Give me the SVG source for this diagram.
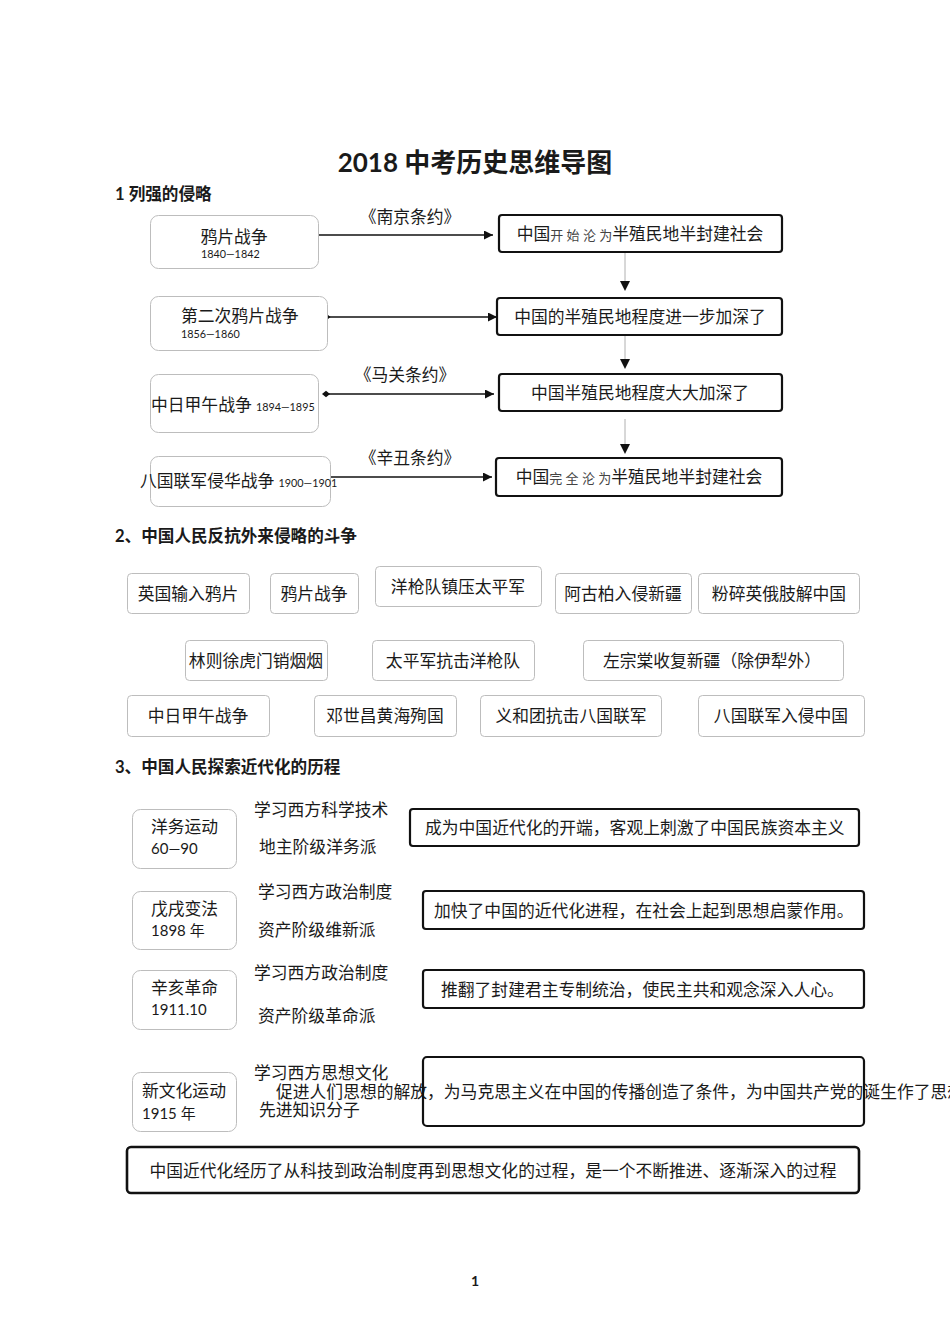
<svg xmlns="http://www.w3.org/2000/svg" width="950" height="1344" viewBox="0 0 950 1344">
<style>
text{font-family:Lato,"Noto Sans CJK SC",sans-serif;fill:#1a1a1a}
.h{font-weight:bold;font-size:16.6px}
.t{font-size:16.8px}
.s{font-size:10.8px}
.g{fill:#fff;stroke:#bdbdbd;stroke-width:1}
.k{fill:none;stroke:#111;stroke-width:2.2}
.ln{stroke:#111;stroke-width:1.3;fill:none}
.vl{stroke:#b0b0b0;stroke-width:1;fill:none}
.thin{font-size:13px;fill:#444}
</style>
<defs>
<marker id="ah" viewBox="0 0 10 10" refX="10" refY="5" markerWidth="9" markerHeight="9" markerUnits="userSpaceOnUse" orient="auto"><path d="M0,0L10,5L0,10z" fill="#111"/></marker>
<marker id="dm" viewBox="0 0 10 10" refX="5" refY="5" markerWidth="8" markerHeight="8" markerUnits="userSpaceOnUse" orient="auto"><path d="M0,5L5,1L10,5L5,9z" fill="#111"/></marker>
<marker id="dm2" viewBox="0 0 10 10" refX="5" refY="5" markerWidth="5" markerHeight="5" markerUnits="userSpaceOnUse" orient="auto"><path d="M0,5L5,1L10,5L5,9z" fill="#111"/></marker>
</defs>
<rect width="950" height="1344" fill="#fff"/>
<text x="475" y="172" text-anchor="middle" style="font-size:26px;font-weight:bold">2018 中考历史思维导图</text>
<text x="115" y="200" class="h">1 列强的侵略</text>

<g id="connectors">
<line class="ln" x1="318" y1="235" x2="493" y2="235" marker-end="url(#ah)"/>
<line class="ln" x1="328" y1="317" x2="497" y2="317" marker-start="url(#dm2)" marker-end="url(#ah)"/>
<line class="ln" x1="326" y1="394" x2="494" y2="394" marker-start="url(#dm)" marker-end="url(#ah)"/>
<line class="ln" x1="330" y1="477" x2="492" y2="477" marker-end="url(#ah)"/>
<line class="vl" x1="625" y1="253" x2="625" y2="281"/>
<path d="M620,281L630,281L625,291z" fill="#111"/>
<line class="vl" x1="625" y1="336" x2="625" y2="359"/>
<path d="M620,359L630,359L625,369z" fill="#111"/>
<line class="vl" x1="625" y1="419" x2="625" y2="444"/>
<path d="M620,444L630,444L625,454z" fill="#111"/>
<text x="410" y="223" text-anchor="middle" class="t">《南京条约》</text>
<text x="405" y="381" text-anchor="middle" class="t">《马关条约》</text>
<text x="410" y="464" text-anchor="middle" class="t">《辛丑条约》</text>
</g>

<g id="n1"><rect class="g" x="150.5" y="215.5" width="168" height="53" rx="8"/><text x="234" y="243" text-anchor="middle" class="t">鸦片战争</text><text x="201" y="258" class="s">1840—1842</text></g>
<g id="n2"><rect class="g" x="150.5" y="296.5" width="177" height="54" rx="8"/><text x="181" y="322" class="t">第二次鸦片战争</text><text x="181" y="338" class="s">1856—1860</text></g>
<g id="n3"><rect class="g" x="150.5" y="374.5" width="168" height="58" rx="8"/><text x="151" y="411" class="t">中日甲午战争 <tspan class="s">1894—1895</tspan></text></g>
<g id="n4"><rect class="g" x="150.5" y="456.5" width="180" height="50" rx="8"/><text x="140" y="487" class="t">八国联军侵华战争 <tspan class="s">1900—1901</tspan></text></g>

<g id="r1"><rect class="k" x="499" y="215" width="283" height="37" rx="3"/><text x="640" y="240" text-anchor="middle" class="t">中国<tspan class="thin">开 始 沦 为</tspan>半殖民地半封建社会</text></g>
<g id="r2"><rect class="k" x="497" y="298" width="285" height="37" rx="3"/><text x="640" y="323" text-anchor="middle" class="t">中国的半殖民地程度进一步加深了</text></g>
<g id="r3"><rect class="k" x="499" y="374" width="283" height="37" rx="3"/><text x="640" y="399" text-anchor="middle" class="t">中国半殖民地程度大大加深了</text></g>
<g id="r4"><rect class="k" x="496" y="458" width="286" height="38" rx="3"/><text x="639" y="483" text-anchor="middle" class="t">中国<tspan class="thin">完 全 沦 为</tspan>半殖民地半封建社会</text></g>

<text x="115" y="542" class="h">2、中国人民反抗外来侵略的斗争</text>
<g id="b1"><rect class="g" x="127.5" y="573.5" width="122" height="40" rx="4"/><text x="188" y="600" text-anchor="middle" class="t">英国输入鸦片</text></g>
<g id="b2"><rect class="g" x="270.5" y="573.5" width="88" height="40" rx="4"/><text x="314" y="600" text-anchor="middle" class="t">鸦片战争</text></g>
<g id="b3"><rect class="g" x="375.5" y="566.5" width="166" height="40" rx="4"/><text x="458" y="593" text-anchor="middle" class="t">洋枪队镇压太平军</text></g>
<g id="b4"><rect class="g" x="555.5" y="573.5" width="136" height="40" rx="4"/><text x="623" y="600" text-anchor="middle" class="t">阿古柏入侵新疆</text></g>
<g id="b5"><rect class="g" x="698.5" y="573.5" width="161" height="40" rx="4"/><text x="779" y="600" text-anchor="middle" class="t">粉碎英俄肢解中国</text></g>
<g id="b6"><rect class="g" x="185.5" y="640.5" width="142" height="40" rx="4"/><text x="256" y="667" text-anchor="middle" class="t">林则徐虎门销烟烟</text></g>
<g id="b7"><rect class="g" x="372.5" y="640.5" width="162" height="40" rx="4"/><text x="453" y="667" text-anchor="middle" class="t">太平军抗击洋枪队</text></g>
<g id="b8"><rect class="g" x="583.5" y="640.5" width="260" height="40" rx="4"/><text x="712" y="667" text-anchor="middle" class="t">左宗棠收复新疆（除伊犁外）</text></g>
<g id="b9"><rect class="g" x="127.5" y="695.5" width="142" height="41" rx="4"/><text x="198" y="722" text-anchor="middle" class="t">中日甲午战争</text></g>
<g id="b10"><rect class="g" x="314.5" y="695.5" width="142" height="41" rx="4"/><text x="385" y="722" text-anchor="middle" class="t">邓世昌黄海殉国</text></g>
<g id="b11"><rect class="g" x="480.5" y="695.5" width="181" height="41" rx="4"/><text x="571" y="722" text-anchor="middle" class="t">义和团抗击八国联军</text></g>
<g id="b12"><rect class="g" x="698.5" y="695.5" width="166" height="41" rx="4"/><text x="781" y="722" text-anchor="middle" class="t">八国联军入侵中国</text></g>

<text x="115" y="773" class="h">3、中国人民探索近代化的历程</text>
<g id="m1"><rect class="g" x="132.5" y="809.5" width="104" height="59" rx="8"/><text x="151" y="833" class="t">洋务运动</text><text x="151" y="854" class="t" style="font-size:15px">60—90</text>
<text x="254" y="816" class="t">学习西方科学技术</text><text x="259" y="853" class="t">地主阶级洋务派</text></g>
<g id="m2"><rect class="g" x="132.5" y="891.5" width="104" height="58" rx="8"/><text x="151" y="915" class="t">戊戌变法</text><text x="151" y="936" class="t" style="font-size:15px">1898 年</text>
<text x="258" y="898" class="t">学习西方政治制度</text><text x="258" y="936" class="t">资产阶级维新派</text></g>
<g id="m3"><rect class="g" x="132.5" y="970.5" width="104" height="59" rx="8"/><text x="151" y="994" class="t">辛亥革命</text><text x="151" y="1015" class="t" style="font-size:15px">1911.10</text>
<text x="254" y="979" class="t">学习西方政治制度</text><text x="258" y="1022" class="t">资产阶级革命派</text></g>
<g id="m4"><rect class="g" x="132.5" y="1072.5" width="104" height="59" rx="8"/><text x="142" y="1097" class="t">新文化运动</text><text x="142" y="1119" class="t" style="font-size:15px">1915 年</text>
<text x="254" y="1079" class="t">学习西方思想文化</text><text x="259" y="1116" class="t">先进知识分子</text></g>

<g id="e1"><rect class="k" x="410" y="809" width="449" height="37" rx="3"/><text x="425" y="834" class="t">成为中国近代化的开端，客观上刺激了中国民族资本主义</text></g>
<g id="e2"><rect class="k" x="423" y="891" width="441" height="38" rx="3"/><text x="434" y="917" class="t">加快了中国的近代化进程，在社会上起到思想启蒙作用。</text></g>
<g id="e3"><rect class="k" x="423" y="970" width="441" height="38" rx="3"/><text x="441" y="996" class="t">推翻了封建君主专制统治，使民主共和观念深入人心。</text></g>
<g id="e4"><text x="276" y="1098" class="t">促进人们思想的解放，为马克思主义在中国的传播创造了条件，为中国共产党的诞生作了思想</text><rect class="k" x="423" y="1057" width="441" height="69" rx="4"/></g>

<g id="summary"><rect class="k" x="127" y="1147" width="732" height="46" rx="4" style="stroke-width:2.6"/><text x="493" y="1177" text-anchor="middle" class="t" textLength="687" lengthAdjust="spacingAndGlyphs">中国近代化经历了从科技到政治制度再到思想文化的过程，是一个不断推进、逐渐深入的过程</text></g>

<text x="475" y="1286" text-anchor="middle" style="font-size:14px;font-weight:bold">1</text>
</svg>
